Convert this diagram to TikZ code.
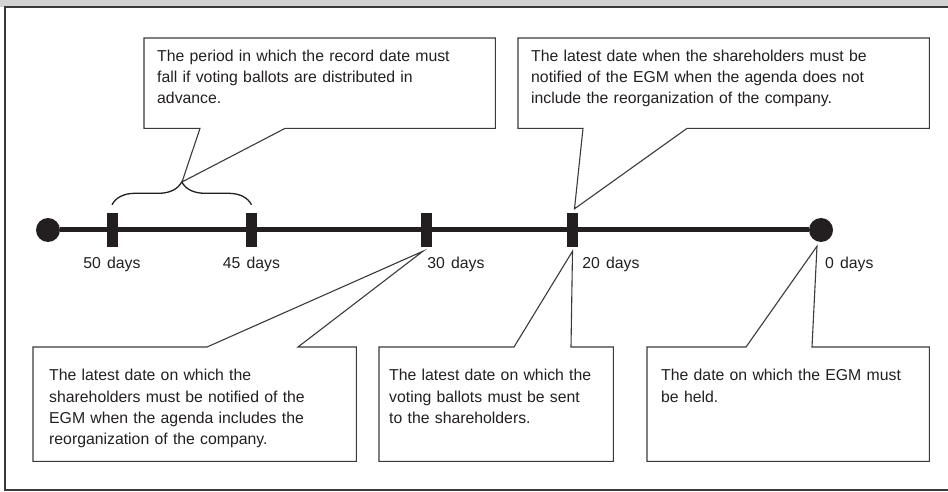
\documentclass[tikz,border=0pt]{standalone}
\usepackage{fontspec}
\setmainfont{Liberation Sans}[WordSpace=1.4]
\usetikzlibrary{positioning, decorations.pathreplacing}

\definecolor{ink}{HTML}{231F20}
\definecolor{rule}{HTML}{3A3A3A}
\definecolor{band}{HTML}{D2D2D2}

\tikzset{
  dot/.style={circle, fill=ink, inner sep=0pt, minimum size=24bp},
  tick/.style={rectangle, fill=ink, inner sep=0pt, minimum width=11bp, minimum height=34bp},
  daylbl/.style={inner sep=0pt, text=ink, font=\fontsize{15.8bp}{19bp}\selectfont},
  note/.style={anchor=north west, inner xsep=13bp, inner ysep=0pt, align=left, text=ink,
    font=\fontsize{15.8bp}{21.3bp}\selectfont},
  topnote/.style={note, text height=23bp, text depth=67bp},
  lownote/.style={note, text height=33.5bp, text depth=80.5bp},
  callout/.style={draw=rule, line width=1.1bp, line join=miter},
}

\begin{document}
\begin{tikzpicture}[x=1bp, y=-1bp]
  \useasboundingbox (0,0) rectangle (948,492);
  \fill[band] (0,0) rectangle (948,7);
  \draw[rule, line width=2bp] (948,7.5) -- (5,7.5) -- (5,490) -- (948,490);

  \node[dot] (start) at (48,230) {};
  \node[dot] (d0) at (821,230) {};
  \draw[ink, line width=5bp] (start) -- (d0);
  \node[tick] (d50) at (112,230) {};
  \node[tick] (d45) at (251.5,230) {};
  \node[tick] (d30) at (426,230) {};
  \node[tick] (d20) at (572.5,230) {};

  \node[daylbl, below=9.5bp of d50] (l50) {50 days};
  \node[daylbl, below=9.5bp of d45] (l45) {45 days};
  \node[daylbl, below right=9.5bp and -4.5bp of d30] (l30) {30 days};
  \node[daylbl, below right=9.5bp and 4bp of d20] (l20) {20 days};
  \node[daylbl, below right=14.5bp and 4bp of d0.south] (l0) {0 days};

  \draw[ink, line width=1.3bp, decorate, decoration={brace, amplitude=23bp}]
    ([yshift=8bp]d50.north) -- ([yshift=8bp]d45.north);
  \coordinate (rectip) at (182,182);
  \coordinate (tip20a) at ([xshift=2bp, yshift=4bp]d20.north);
  \coordinate (tip30) at ([xshift=-3bp, yshift=-4bp]d30.south);
  \coordinate (tip20b) at ([yshift=-4bp]d20.south);
  \coordinate (tip0) at ([xshift=-4bp, yshift=-4bp]d0.south);

  \node[topnote, text width=325bp] (rec) at (144,38)
    {The period in which the record date must\\
     fall if voting ballots are distributed in\\
     advance.};
  \node[topnote, text width=385bp] (egm20) at (518,38)
    {The latest date when the shareholders must be\\
     notified of the EGM when the agenda does not\\
     include the reorganization of the company.};
  \node[lownote, inner xsep=16bp, text width=291bp] (egm30) at (33,347)
    {The latest date on which the\\
     shareholders must be notified of the\\
     EGM when the agenda includes the\\
     reorganization of the company.};
  \node[lownote, inner xsep=10bp, text width=214bp] (vote20) at (379,347)
    {The latest date on which the\\
     voting ballots must be sent\\
     to the shareholders.};
  \node[lownote, inner xsep=14bp, text width=254bp] (held0) at (647,347)
    {The date on which the EGM must\\
     be held.};

  \draw[callout] (rec.south west) -- (rec.north west) -- (rec.north east) -- (rec.south east)
    -- ([xshift=141bp]rec.south west) -- (rectip) -- ([xshift=56bp]rec.south west) -- cycle;
  \draw[callout] (egm20.south west) -- (egm20.north west) -- (egm20.north east) -- (egm20.south east)
    -- ([xshift=169bp]egm20.south west) -- (tip20a) -- ([xshift=65bp]egm20.south west) -- cycle;
  \draw[callout] (egm30.north west) -- ([xshift=174bp]egm30.north west) -- (tip30)
    -- ([xshift=265bp]egm30.north west) -- (egm30.north east) -- (egm30.south east)
    -- (egm30.south west) -- cycle;
  \draw[callout] (vote20.north west) -- ([xshift=135bp]vote20.north west) -- (tip20b)
    -- ([xshift=192bp]vote20.north west) -- (vote20.north east) -- (vote20.south east)
    -- (vote20.south west) -- cycle;
  \draw[callout] (held0.north west) -- ([xshift=99bp]held0.north west) -- (tip0)
    -- ([xshift=165bp]held0.north west) -- (held0.north east) -- (held0.south east)
    -- (held0.south west) -- cycle;
\end{tikzpicture}
\end{document}
